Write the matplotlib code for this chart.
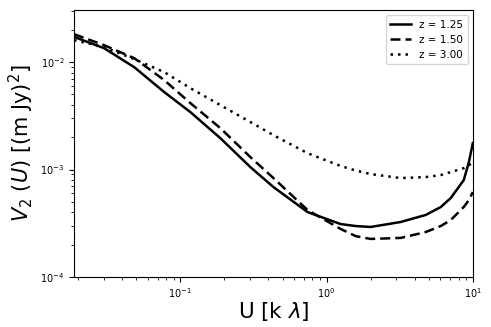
import matplotlib
matplotlib.use('Agg')
import matplotlib.pyplot as plt

# values (log-log)
u_vals = [0.01879, 0.03013, 0.04842, 0.0777, 0.1171, 0.1879, 0.3014, 0.4335, 0.7413,
          1.247, 1.581, 2.0, 3.213, 4.766, 6.04, 7.065, 8.67, 9.4, 10.0]
v_z125 = [0.01718, 0.01349, 0.00898, 0.00526, 0.00343, 0.00196, 0.001054, 0.000687, 0.000402,
          0.000311, 0.000298, 0.000292, 0.000325, 0.000378, 0.000448, 0.000543, 0.000798,
          0.001175, 0.001766]
v_z150 = [0.0182, 0.01439, 0.01089, 0.0068, 0.00416, 0.00243, 0.001306, 0.000833, 0.00042,
          0.00028, 0.00024, 0.000226, 0.000231, 0.000262, 0.000298, 0.000339, 0.000448,
          0.00052, 0.000618]
v_z300 = [0.01603, 0.0138, 0.01067, 0.00807, 0.00573, 0.00398, 0.00277, 0.00209, 0.00142,
          0.00108, 0.00098, 0.000908, 0.000833, 0.000851, 0.000889, 0.000948, 0.00103,
          0.0011, 0.00115]
labels = ['z = 1.25', 'z = 1.50', 'z = 3.00']

fig = plt.figure(figsize=(4.91, 3.27), dpi=100)
ax = fig.add_axes([0.151, 0.153, 0.812, 0.816])

ax.loglog(u_vals, v_z125, color='black', lw=1.8, ls='-', label=labels[0])
ax.loglog(u_vals, v_z150, color='black', lw=1.8, ls=(0, (4, 2)), label=labels[1])
ax.loglog(u_vals, v_z300, color='black', lw=1.8, ls=(0, (1, 2)), label=labels[2])

ax.set_xlim(0.0188, 10)
ax.set_ylim(1e-4, 0.0305)
ax.tick_params(labelsize=7)
ax.set_xlabel(r'U [k $\lambda$]', fontsize=15.5, labelpad=0)
ax.set_ylabel(r'$V_2\ (U)$ [(m Jy)$^2$]', fontsize=15, labelpad=3)
ax.legend(loc='upper right', fontsize=7.5)

plt.savefig('out.png', dpi=100)
